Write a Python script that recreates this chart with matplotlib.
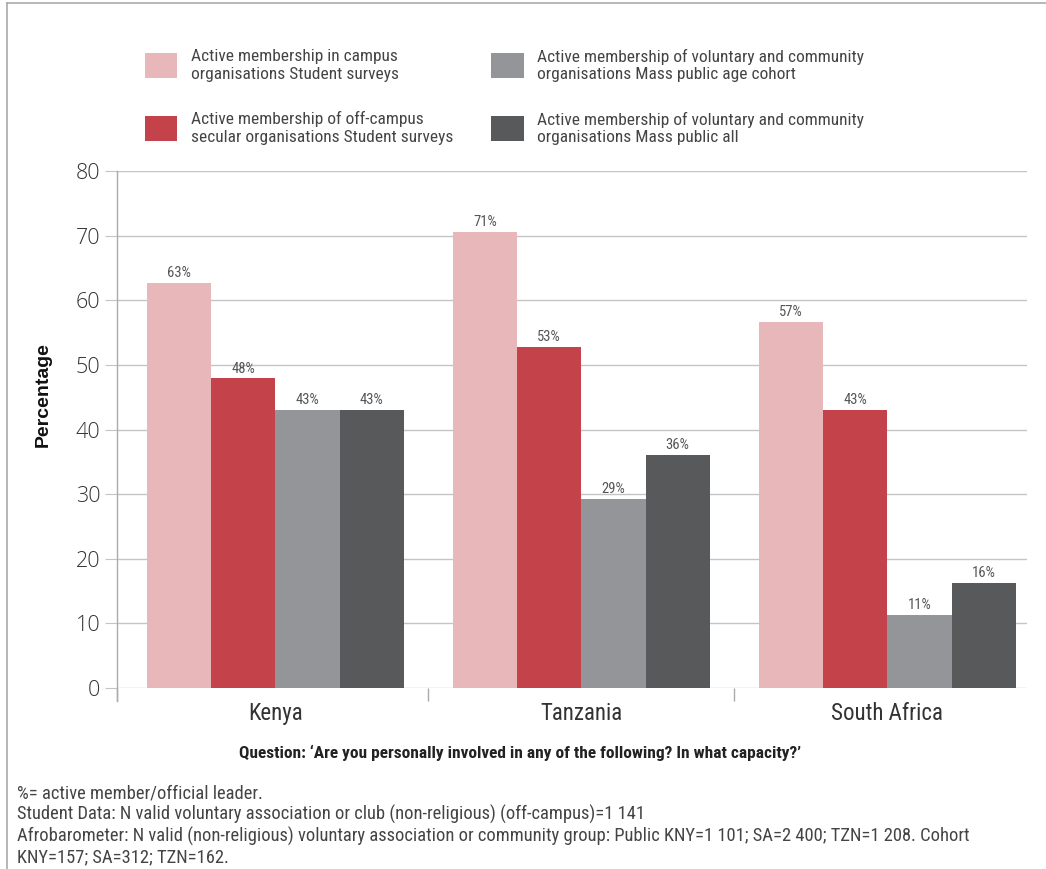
import matplotlib
matplotlib.use("Agg")
import matplotlib.pyplot as plt
from matplotlib import font_manager
from matplotlib.lines import Line2D
from matplotlib.patches import Patch
import numpy as np

#   Membership of organisations, students vs mass public

countries = ["Kenya", "Tanzania", "South Africa"]
series_names = [
    "Active membership in campus\norganisations Student surveys",
    "Active membership of off-campus\nsecular organisations Student surveys",
    "Active membership of voluntary and community\norganisations Mass public age cohort",
    "Active membership of voluntary and community\norganisations Mass public all",
]
campus = [62.7, 70.6, 56.7]
off_campus = [47.9, 52.8, 43.0]
cohort = [43.0, 29.3, 11.3]
public_all = [43.0, 36.1, 16.3]
colors = ["#E8B7BA", "#C4424A", "#939598", "#58595B"]

question = "Question: \u2018Are you personally involved in any of the following? In what capacity?\u2019"
notes = [
    "%= active member/official leader.",
    "Student Data: N valid voluntary association or club (non-religious) (off-campus)=1 141",
    "Afrobarometer: N valid (non-religious) voluntary association or community group: Public KNY=1 101; SA=2 400; TZN=1 208. Cohort",
    "KNY=157; SA=312; TZN=162.",
]

installed = set(f.name for f in font_manager.fontManager.ttflist)
narrow = "DejaVu Sans"
for name in ["Liberation Sans Narrow", "DejaVu Sans Condensed", "Roboto Condensed", "Liberation Sans"]:
    if name in installed:
        narrow = name
        break
regular = "Open Sans" if "Open Sans" in installed else "DejaVu Sans"
boldfont = "Liberation Sans" if "Liberation Sans" in installed else "DejaVu Sans"

fig = plt.figure(figsize=(10.46, 8.69), dpi=100)
ax = fig.add_axes([0.1119, 0.2083, 0.8699, 0.5949])

x = np.arange(len(countries))
w = 0.21
all_series = [campus, off_campus, cohort, public_all]
for i, vals in enumerate(all_series):
    pos = x + (i - 1.5) * w
    bars = ax.bar(pos, vals, width=w, color=colors[i], label=series_names[i], zorder=3)
    ax.bar_label(bars, labels=[f"{v:.0f}%" for v in vals], padding=2,
                 fontsize=10.5, color="#555555", family=narrow)

ax.set_ylim(0, 80)
ax.set_xlim(-0.517, 2.456)
ax.set_yticks(range(0, 81, 10))
ax.yaxis.grid(True, color="#C4C4C4", lw=1, zorder=0)
for s in ["top", "right", "bottom", "left"]:
    ax.spines[s].set_visible(False)
ax.tick_params(axis="y", length=9, color="#C4C4C4", labelsize=15.5, labelcolor="#333333", pad=3)
for t in ax.get_yticklabels():
    t.set_family(regular)
    t.set_fontweight("light")

ax.set_xticks(x)
ax.set_xticklabels(countries, fontsize=16.5, color="#333333", family=narrow)
ax.tick_params(axis="x", length=0, pad=10)
ax.set_xticks([-0.517, 0.5, 1.5], minor=True)
ax.tick_params(axis="x", which="minor", length=9, color="#AAAAAA", width=1)

# left spine running a bit below zero
ax.plot([0, 0], [-0.025, 1], transform=ax.transAxes, color="#AAAAAA", lw=1, clip_on=False, zorder=4)

ax.set_ylabel("Percentage", fontsize=14, fontweight="bold", color="#111111", family=boldfont)
ax.yaxis.set_label_coords(-0.072, 0.567)

handles = [Patch(facecolor=c) for c in colors]
fig.legend(handles, series_names, loc="upper left", bbox_to_anchor=(0.1385, 0.944), ncol=2,
           frameon=False, prop={"family": narrow, "size": 12.5}, labelcolor="#444444",
           handlelength=1.85, handleheight=1.85, handletextpad=0.8, columnspacing=2.2,
           labelspacing=1.7, borderaxespad=0, borderpad=0)

fig.text(0.497, 0.1335, question, ha="center", va="center", fontsize=12.5, fontweight="bold",
         color="#222222", family=narrow)
for k, line in enumerate(notes):
    fig.text(0.016, 0.087 - k * 0.0245, line, ha="left", va="center", fontsize=13.3,
             color="#444444", family=narrow)

# outer frame: left and top edges
fig.add_artist(Line2D([0.0067, 0.0067], [0.0, 0.9965], color="#AAAAAA", lw=1.2))
fig.add_artist(Line2D([0.0067, 1.0], [0.9965, 0.9965], color="#AAAAAA", lw=1.2))

fig.savefig("out.png", dpi=100)
